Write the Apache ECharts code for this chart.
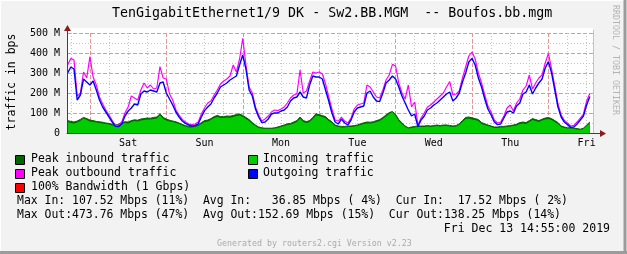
<!DOCTYPE html>
<html><head><meta charset="utf-8">
<script src="https://cdn.jsdelivr.net/npm/echarts@6/dist/echarts.min.js"></script>
<style>
html,body{margin:0;padding:0;background:#f2f2f2}
#wrap{position:relative;width:627px;height:254px}
#plotbg{position:absolute;left:68px;top:28px;width:525px;height:105px;background:#ffffff}
#c{position:absolute;left:0;top:0;width:627px;height:254px}
</style>
</head><body><div id="wrap"><div id="plotbg"></div><div id="c"></div></div>
<script>
// hours relative to Sat 00:00; one sample per hour starting at startHour
const startHour = -7;
const dayHours = [12, 36, 60, 84, 108, 132, 156];
const dayLabels = ['Sat', 'Sun', 'Mon', 'Tue', 'Wed', 'Thu', 'Fri'];
const yTicks = [0, 100, 200, 300, 400, 500];

const outAvg = [300,330,320,165,190,270,255,240,260,215,165,130,105,80,55,33,32,45,85,110,125,145,140,195,210,205,215,210,205,250,255,200,170,140,105,80,60,48,40,35,38,45,80,112,130,145,175,200,230,240,250,265,275,285,340,390,320,215,185,120,80,52,55,70,95,100,100,110,115,130,160,175,180,205,180,175,240,285,280,280,270,215,160,100,55,45,70,50,40,65,105,125,130,135,200,210,180,160,157,200,250,265,285,270,230,185,150,115,85,95,32,65,85,115,125,140,150,165,180,195,205,160,175,200,255,300,355,373,340,275,230,170,120,90,55,42,45,75,105,110,100,135,150,195,205,240,195,225,250,270,325,357,300,215,130,80,55,42,28,30,45,65,85,140,182];
const peakOut = [340,373,365,185,200,305,275,382,280,240,180,145,115,90,62,38,38,55,100,130,185,175,165,215,250,225,240,220,225,332,275,270,195,165,115,90,68,55,45,42,45,55,95,125,150,160,190,215,245,260,270,285,340,305,370,473.76,340,230,200,130,90,60,70,85,105,115,112,120,130,150,175,190,195,315,200,210,260,305,300,305,295,245,180,120,65,60,80,60,50,75,120,140,145,150,240,230,205,180,175,215,265,290,343,335,250,200,170,240,130,155,40,75,100,130,140,155,170,185,200,230,257,190,195,210,275,330,385,405,370,300,250,190,135,105,65,50,55,85,125,140,110,150,170,215,235,290,220,250,275,290,350,398,320,235,145,90,62,50,35,38,55,75,95,160,198];
const inAvg = [55,50,48,52,60,72,65,58,55,52,50,48,45,42,38,35,38,45,50,48,55,60,58,62,65,68,68,70,72,90,70,62,58,55,50,45,38,32,28,28,30,35,45,55,58,65,75,80,75,75,78,76,80,85,88,80,70,60,45,35,25,22,20,20,20,22,25,30,35,40,42,48,55,72,55,50,55,70,88,85,80,75,60,50,35,30,28,28,30,30,32,35,40,45,48,48,50,55,60,70,82,95,105,85,60,45,30,22,25,28,30,30,30,32,30,32,35,32,35,35,33,30,32,40,55,70,72,68,65,60,45,40,35,30,25,25,28,28,30,32,35,38,45,48,45,55,65,60,55,62,68,70,65,55,45,30,25,22,22,20,18,15,20,35,48];
const peakIn = [62,58,55,60,68,78,72,65,62,58,56,54,50,48,44,40,44,52,56,55,62,66,64,70,72,75,74,78,80,96,78,70,64,60,56,50,43,37,33,32,35,40,52,62,65,72,82,88,82,82,85,84,88,92,95,88,78,67,52,40,30,26,24,24,24,26,30,35,40,46,48,55,62,80,62,57,62,78,96,92,87,82,67,56,40,35,33,33,35,35,37,40,46,51,55,54,56,62,67,78,90,102,107.52,93,67,51,35,26,30,33,35,35,35,37,35,37,40,37,40,40,38,35,37,46,62,78,80,76,72,67,52,46,40,35,30,30,33,33,35,37,40,44,52,55,52,62,72,67,62,69,75,77,72,62,52,35,30,26,26,24,22,19,24,40,55];

function pairs(arr) { return arr.map(function (v, i) { return [startHour + i, v]; }); }

const FONT = '"DejaVu Sans Mono", monospace';
const GREY = '#c4c4c4', RED = '#e89494';
const X0 = -7.2, X1 = 158, PLOT_L = 67, PLOT_R = 593;
const pxPerH = (PLOT_R - PLOT_L) / (X1 - X0);
function xpx(h) { return PLOT_L + (h - X0) * pxPerH; }

const chart = echarts.init(document.getElementById('c'), null, { renderer: 'canvas' });

function txt(x, y, text, size, color, extra, rot) {
  const st = Object.assign({ text: text, font: size + 'px ' + FONT, fill: color || '#000', align: 'left', verticalAlign: 'middle' }, extra || {});
  const el = { type: 'text', x: x, y: y, style: st, silent: true };
  if (rot) el.rotation = rot;
  return el;
}
function sw(x, y, color) {
  return { type: 'rect', shape: { x: x + 0.5, y: y + 0.5, width: 9, height: 9 }, style: { fill: color, stroke: '#000', lineWidth: 1 }, silent: true };
}
function hiddenAxis(o) {
  return Object.assign({ show: true, axisLine: { show: false }, axisTick: { show: false }, axisLabel: { show: false } }, o);
}

chart.setOption({
  animation: false,
  backgroundColor: 'transparent',
  grid: [
    { left: PLOT_L, right: 627 - PLOT_R, top: 33, bottom: 121 },
    { left: xpx(-6), right: 627 - xpx(156), top: 33, bottom: 121 },
    { left: xpx(0), right: 627 - xpx(144), top: 33, bottom: 121 }
  ],
  xAxis: [
    { gridIndex: 0, type: 'value', min: X0, max: X1, z: 6,
      axisLine: { show: true, onZero: false, lineStyle: { color: '#404040', width: 1 } },
      axisTick: { show: false }, splitLine: { show: false },
      axisLabel: {
        customValues: dayHours,
        formatter: function (v) { const k = dayHours.indexOf(v); return k >= 0 ? dayLabels[k] : ''; },
        fontFamily: FONT, fontSize: 10, color: '#000', margin: 5
      } },
    hiddenAxis({ gridIndex: 1, type: 'value', min: -6, max: 156, interval: 6, z: 1,
      splitLine: { show: true, lineStyle: { color: GREY, type: [1, 2], width: 1 } } }),
    hiddenAxis({ gridIndex: 2, type: 'value', min: 0, max: 144, interval: 24, z: 1,
      splitLine: { show: true, lineStyle: { color: RED, type: 'dashed', width: 1 } } })
  ],
  yAxis: [
    { gridIndex: 0, type: 'value', min: 0, max: 500, interval: 100, z: 6,
      axisLine: { show: true, onZero: false, lineStyle: { color: '#404040', width: 1 } },
      axisTick: { show: false }, splitLine: { show: false },
      axisLabel: {
        formatter: function (v) { if (yTicks.indexOf(v) < 0) return ''; return v === 0 ? '0' : v + ' M'; },
        fontFamily: FONT, fontSize: 10, color: '#000', margin: 7
      } },
    hiddenAxis({ gridIndex: 1, type: 'value', min: 0, max: 500, splitLine: { show: false } }),
    hiddenAxis({ gridIndex: 2, type: 'value', min: 0, max: 500, splitLine: { show: false } }),
    hiddenAxis({ gridIndex: 0, type: 'value', min: 0, max: 500, interval: 50, z: 1, position: 'right',
      splitLine: { show: true, lineStyle: { color: GREY, type: [1, 2], width: 1 } } }),
    hiddenAxis({ gridIndex: 0, type: 'value', min: 0, max: 500, interval: 100, z: 1, position: 'right', offset: 1,
      splitLine: { show: true, lineStyle: { color: RED, type: 'dashed', width: 1 } } })
  ],
  series: [
    { name: 'Peak inbound traffic', type: 'line', xAxisIndex: 0, yAxisIndex: 0, data: pairs(peakIn), showSymbol: false, symbol: 'none',
      lineStyle: { width: 1, color: '#006400' }, areaStyle: { color: '#006400', opacity: 1 }, z: 2 },
    { name: 'Incoming traffic', type: 'line', xAxisIndex: 0, yAxisIndex: 0, data: pairs(inAvg), showSymbol: false, symbol: 'none',
      lineStyle: { width: 0, color: '#00cc00' }, areaStyle: { color: '#00cc00', opacity: 1 }, z: 3 },
    { name: 'Peak outbound traffic', type: 'line', xAxisIndex: 0, yAxisIndex: 0, data: pairs(peakOut), showSymbol: false, symbol: 'none',
      lineStyle: { width: 1.2, color: '#ff00ff' }, z: 4 },
    { name: 'Outgoing traffic', type: 'line', xAxisIndex: 0, yAxisIndex: 0, data: pairs(outAvg), showSymbol: false, symbol: 'none',
      lineStyle: { width: 1.4, color: '#0000ff' }, z: 5 }
  ],
  graphic: [
    { type: 'line', shape: { x1: 593.5, y1: 30, x2: 593.5, y2: 133 }, style: { stroke: '#c4c4c4', lineWidth: 1 }, silent: true },
    { type: 'line', shape: { x1: 593, y1: 133.5, x2: 601, y2: 133.5 }, style: { stroke: '#404040', lineWidth: 1 }, silent: true },
    { type: 'polygon', shape: { points: [[600, 130], [606, 133.5], [600, 137]] }, style: { fill: '#8b1a1a' }, silent: true },
    { type: 'line', shape: { x1: 67.5, y1: 30, x2: 67.5, y2: 33 }, style: { stroke: '#404040', lineWidth: 1 }, silent: true },
    { type: 'polygon', shape: { points: [[64, 31], [67.5, 25], [71, 31]] }, style: { fill: '#8b1a1a' }, silent: true },
    txt(112, 14, 'TenGigabitEthernet1/9 DK - Sw2.BB.MGM  -- Boufos.bb.mgm', 13.3, '#000'),
    txt(12, 82, 'traffic in bps', 11.5, '#000', { align: 'center' }, Math.PI / 2),
    txt(615, 60, 'RRDTOOL / TOBI OETIKER', 8.3, '#b4b4b4', { align: 'center' }, -Math.PI / 2),
    sw(15, 155, '#006400'), txt(31, 159.5, 'Peak inbound traffic', 11.5),
    sw(248, 155, '#00cc00'), txt(263, 159.5, 'Incoming traffic', 11.5),
    sw(15, 169, '#ff00ff'), txt(31, 173.5, 'Peak outbound traffic', 11.5),
    sw(248, 169, '#0000ff'), txt(263, 173.5, 'Outgoing traffic', 11.5),
    sw(15, 183, '#ff0000'), txt(31, 187.5, '100% Bandwidth (1 Gbps)', 11.5),
    txt(17, 201.5, 'Max In: 107.52 Mbps (11%)  Avg In:   36.85 Mbps ( 4%)  Cur In:  17.52 Mbps ( 2%)', 11.45),
    txt(17, 215.5, 'Max Out:473.76 Mbps (47%)  Avg Out:152.69 Mbps (15%)  Cur Out:138.25 Mbps (14%)', 11.45),
    txt(610, 229.5, 'Fri Dec 13 14:55:00 2019', 11.5, '#000', { align: 'right' }),
    txt(217, 243.5, 'Generated by routers2.cgi Version v2.23', 8.3, '#aaaaaa'),
    { type: 'rect', shape: { x: 0.5, y: 0.5, width: 625, height: 252 }, style: { fill: 'none', stroke: '#ffffff', lineWidth: 1 }, silent: true },
    { type: 'line', shape: { x1: 625, y1: 0, x2: 625, y2: 254 }, style: { stroke: '#9c9c9c', lineWidth: 3 }, silent: true },
    { type: 'line', shape: { x1: 0, y1: 252.5, x2: 627, y2: 252.5 }, style: { stroke: '#9c9c9c', lineWidth: 3 }, silent: true }
  ]
});
</script></body></html>
